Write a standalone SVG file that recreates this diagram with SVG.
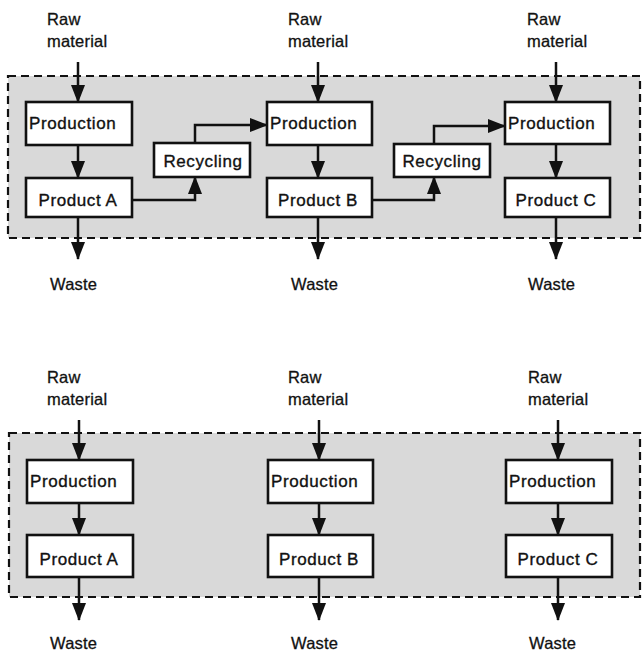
<svg xmlns="http://www.w3.org/2000/svg" width="642" height="654" viewBox="0 0 642 654">
<defs>
<style>
.panel{fill:#d9d9d9;stroke:#111;stroke-width:2.2;stroke-dasharray:8 5}
.box{fill:#fff;stroke:#111;stroke-width:2.6}
.lbl{font-family:"Liberation Sans",Arial,sans-serif;font-size:17px;fill:#111;stroke:#111;stroke-width:0.35;letter-spacing:0.6px}
.ext{font-family:"Liberation Sans",Arial,sans-serif;font-size:16.5px;fill:#111;stroke:#111;stroke-width:0.3;letter-spacing:0.2px}
.c{text-anchor:middle}
.conn{fill:none;stroke:#111;stroke-width:2.5;marker-end:url(#ah)}
</style>
<marker id="ah" markerUnits="userSpaceOnUse" markerWidth="18" markerHeight="14" viewBox="0 0 18 14" refX="17" refY="7" orient="auto">
<path d="M0,0 L18,7 L0,14 Z" fill="#111"/>
</marker>
</defs>
<rect width="642" height="654" fill="#fff"/>

<!-- Top panel -->
<g id="panel-top"><rect class="panel" x="8" y="76" width="632" height="162"/></g>
<g id="top-raw-a"><text class="ext" x="47" y="25">Raw</text><text class="ext" x="47" y="47">material</text></g>
<g id="top-raw-b"><text class="ext" x="288" y="25">Raw</text><text class="ext" x="288" y="47">material</text></g>
<g id="top-raw-c"><text class="ext" x="527" y="25">Raw</text><text class="ext" x="527" y="47">material</text></g>
<g id="top-prod-a"><rect class="box" x="26" y="102" width="106" height="43"/><text class="lbl" x="29" y="129">Production</text></g>
<g id="top-product-a"><rect class="box" x="26" y="178" width="106" height="39"/><text class="lbl c" x="78" y="206">Product A</text></g>
<g id="top-recyc-1"><rect class="box" x="154" y="143" width="96" height="34"/><text class="lbl c" x="203" y="167">Recycling</text></g>
<g id="top-prod-b"><rect class="box" x="267" y="102" width="105" height="43"/><text class="lbl" x="270" y="129">Production</text></g>
<g id="top-product-b"><rect class="box" x="267" y="178" width="105" height="39"/><text class="lbl c" x="318" y="206">Product B</text></g>
<g id="top-recyc-2"><rect class="box" x="394" y="144" width="96" height="33"/><text class="lbl c" x="442" y="167">Recycling</text></g>
<g id="top-prod-c"><rect class="box" x="505" y="102" width="105" height="42"/><text class="lbl" x="508" y="129">Production</text></g>
<g id="top-product-c"><rect class="box" x="505" y="178" width="105" height="39"/><text class="lbl c" x="556" y="206">Product C</text></g>
<g id="top-waste-a"><text class="ext" x="50" y="290">Waste</text></g>
<g id="top-waste-b"><text class="ext" x="291" y="290">Waste</text></g>
<g id="top-waste-c"><text class="ext" x="528" y="290">Waste</text></g>

<!-- Bottom panel -->
<g id="panel-bottom"><rect class="panel" x="9" y="433" width="631" height="164"/></g>
<g id="bot-raw-a"><text class="ext" x="47" y="383">Raw</text><text class="ext" x="47" y="405">material</text></g>
<g id="bot-raw-b"><text class="ext" x="288" y="383">Raw</text><text class="ext" x="288" y="405">material</text></g>
<g id="bot-raw-c"><text class="ext" x="528" y="383">Raw</text><text class="ext" x="528" y="405">material</text></g>
<g id="bot-prod-a"><rect class="box" x="27" y="460" width="106" height="43"/><text class="lbl" x="30" y="487">Production</text></g>
<g id="bot-product-a"><rect class="box" x="27" y="535" width="106" height="42"/><text class="lbl c" x="79" y="565">Product A</text></g>
<g id="bot-prod-b"><rect class="box" x="268" y="460" width="105" height="43"/><text class="lbl" x="271" y="487">Production</text></g>
<g id="bot-product-b"><rect class="box" x="268" y="535" width="105" height="42"/><text class="lbl c" x="319" y="565">Product B</text></g>
<g id="bot-prod-c"><rect class="box" x="506" y="460" width="106" height="43"/><text class="lbl" x="509" y="487">Production</text></g>
<g id="bot-product-c"><rect class="box" x="506" y="535" width="106" height="42"/><text class="lbl c" x="558" y="565">Product C</text></g>
<g id="bot-waste-a"><text class="ext" x="50" y="649">Waste</text></g>
<g id="bot-waste-b"><text class="ext" x="291" y="649">Waste</text></g>
<g id="bot-waste-c"><text class="ext" x="529" y="649">Waste</text></g>

<g id="connectors">
<path class="conn" d="M78,62 V102"/>
<path class="conn" d="M78,145 V178"/>
<path class="conn" d="M78,217 V259"/>
<path class="conn" d="M132,200 H195 V177"/>
<path class="conn" d="M195,143 V125 H267"/>
<path class="conn" d="M318,62 V102"/>
<path class="conn" d="M318,145 V178"/>
<path class="conn" d="M318,217 V259"/>
<path class="conn" d="M372,200 H434 V177"/>
<path class="conn" d="M434,144 V126 H505"/>
<path class="conn" d="M556,62 V102"/>
<path class="conn" d="M556,144 V178"/>
<path class="conn" d="M556,217 V259"/>

<path class="conn" d="M79,420 V460"/>
<path class="conn" d="M79,503 V535"/>
<path class="conn" d="M79,577 V620"/>
<path class="conn" d="M319,420 V460"/>
<path class="conn" d="M319,503 V535"/>
<path class="conn" d="M319,577 V620"/>
<path class="conn" d="M558,420 V460"/>
<path class="conn" d="M558,503 V535"/>
<path class="conn" d="M558,577 V620"/>
</g>
</svg>
